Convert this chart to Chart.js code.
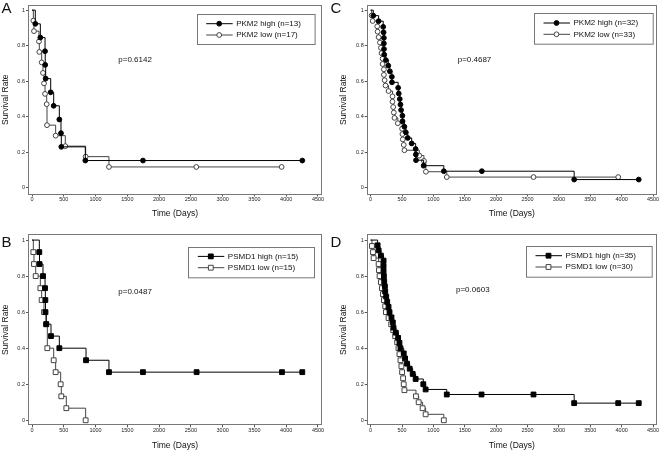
<!DOCTYPE html>
<html>
<head>
<meta charset="utf-8">
<script src="https://cdn.jsdelivr.net/npm/chart.js@4.4.1/dist/chart.umd.min.js"></script>
<style>
  body { margin: 0; background: #fff; }
  canvas { position: absolute; }
</style>
</head>
<body>
<canvas id="chartA" width="330" height="226" style="left:0;top:0"></canvas>
<canvas id="chartC" width="332" height="226" style="left:330px;top:0"></canvas>
<canvas id="chartB" width="330" height="226" style="left:0;top:226px"></canvas>
<canvas id="chartD" width="332" height="226" style="left:330px;top:226px"></canvas>
<script>
// axis ticks
const xTicks = [0, 500, 1000, 1500, 2000, 2500, 3000, 3500, 4000, 4500];
const yTicks = [0, 0.2, 0.4, 0.6, 0.8, 1];
const yTickLabels = ['0', '0.2', '0.4', '0.6', '0.8', '1'];

// A: PKM2 (first cohort)
const aHighDays = [0, 52, 131, 205, 208, 215, 294, 341, 430, 456, 461, 839, 1746, 4253];
const aHighSurv = [1, 0.923, 0.846, 0.769, 0.692, 0.615, 0.538, 0.462, 0.385, 0.308, 0.231, 0.154, 0.154, 0.154];
const aLowDays = [0, 21, 31, 110, 115, 152, 173, 189, 205, 231, 236, 372, 524, 844, 1211, 2585, 3928];
const aLowSurv = [1, 0.941, 0.882, 0.824, 0.765, 0.706, 0.647, 0.588, 0.529, 0.471, 0.353, 0.294, 0.235, 0.176, 0.118, 0.118, 0.118];

// B: PSMD1 (first cohort)
const bHighDays = [0, 115, 118, 173, 205, 210, 212, 225, 299, 430, 850, 1211, 1746, 2590, 3933, 4253];
const bHighSurv = [1, 0.933, 0.867, 0.8, 0.733, 0.667, 0.6, 0.533, 0.467, 0.4, 0.333, 0.267, 0.267, 0.267, 0.267, 0.267];
const bLowDays = [0, 21, 31, 58, 131, 152, 189, 220, 241, 341, 372, 451, 461, 540, 844];
const bLowSurv = [1, 0.933, 0.867, 0.8, 0.733, 0.667, 0.6, 0.533, 0.4, 0.333, 0.267, 0.2, 0.133, 0.067, 0];

// C: PKM2 (second cohort)
const cHighDays = [0, 42, 127, 200, 206, 211, 211, 213, 216, 243, 280, 306, 338, 340, 438, 448, 464, 475, 485, 506, 508, 538, 560, 591, 654, 717, 720, 723, 844, 1166, 1772, 3243, 4272];
const cHighSurv = [1, 0.969, 0.938, 0.906, 0.875, 0.844, 0.813, 0.781, 0.75, 0.719, 0.688, 0.656, 0.625, 0.594, 0.563, 0.531, 0.5, 0.469, 0.438, 0.406, 0.375, 0.344, 0.313, 0.281, 0.25, 0.219, 0.188, 0.156, 0.125, 0.094, 0.094, 0.047, 0.047];
const cLowDays = [0, 16, 32, 105, 111, 127, 148, 164, 174, 190, 190, 211, 211, 222, 237, 285, 348, 348, 359, 369, 380, 433, 501, 506, 512, 527, 538, 775, 849, 880, 1213, 2595, 3945];
const cLowSurv = [1, 0.970, 0.939, 0.909, 0.879, 0.848, 0.818, 0.788, 0.758, 0.727, 0.697, 0.667, 0.636, 0.606, 0.576, 0.545, 0.515, 0.485, 0.455, 0.424, 0.394, 0.364, 0.333, 0.303, 0.273, 0.242, 0.212, 0.182, 0.152, 0.091, 0.061, 0.061, 0.061];

// D: PSMD1 (second cohort)
const dHighDays = [0, 111, 127, 163, 206, 206, 206, 211, 216, 227, 232, 248, 264, 285, 301, 332, 353, 364, 401, 438, 459, 475, 527, 549, 580, 622, 670, 717, 839, 876, 1213, 1767, 2595, 3243, 3945, 4272];
const dHighSurv = [1, 0.971, 0.943, 0.914, 0.886, 0.857, 0.829, 0.8, 0.771, 0.743, 0.714, 0.686, 0.657, 0.629, 0.6, 0.571, 0.543, 0.514, 0.486, 0.457, 0.429, 0.4, 0.371, 0.343, 0.314, 0.286, 0.257, 0.229, 0.2, 0.171, 0.143, 0.143, 0.143, 0.095, 0.095, 0.095];
const dLowDays = [0, 21, 37, 47, 127, 132, 142, 163, 179, 195, 211, 232, 243, 285, 327, 359, 390, 422, 443, 459, 475, 490, 501, 517, 527, 538, 722, 765, 828, 876, 1166];
const dLowSurv = [1, 0.967, 0.933, 0.9, 0.867, 0.833, 0.8, 0.767, 0.733, 0.7, 0.667, 0.633, 0.6, 0.567, 0.533, 0.5, 0.467, 0.433, 0.4, 0.367, 0.333, 0.3, 0.267, 0.233, 0.2, 0.167, 0.133, 0.1, 0.067, 0.033, 0];

const seriesLabels = {
  A: ['PKM2 high (n=13)', 'PKM2 low (n=17)'],
  B: ['PSMD1 high (n=15)', 'PSMD1 low (n=15)'],
  C: ['PKM2 high (n=32)', 'PKM2 low (n=33)'],
  D: ['PSMD1 high (n=35)', 'PSMD1 low (n=30)']
};
const pValues = { A: 'p=0.6142', B: 'p=0.0487', C: 'p=0.4687', D: 'p=0.0603' };

const FONT = '"Liberation Sans", Arial, Helvetica, sans-serif';
Chart.defaults.font.family = FONT;

const HIGH_COLOR = '#000';
const LOW_COLOR = '#444';

function pts(days, surv) {
  return days.map((d, i) => ({ x: d, y: surv[i] }));
}

function series(label, days, surv, shape, high) {
  const r = shape === 'rect' ? 3.4 : 2.4;
  return {
    label: label,
    data: pts(days, surv),
    showLine: true,
    stepped: true,
    borderColor: high ? HIGH_COLOR : LOW_COLOR,
    borderWidth: 1,
    pointStyle: shape,
    pointRadius: c => c.dataIndex === 0 ? 0 : r,
    pointBackgroundColor: high ? HIGH_COLOR : '#fff',
    pointBorderColor: high ? HIGH_COLOR : LOW_COLOR,
    pointBorderWidth: 1,
    r: r
  };
}

function marker(ctx, shape, r, x, y) {
  ctx.beginPath();
  if (shape === 'rect') {
    const h = r * Math.SQRT1_2;
    ctx.rect(x - h, y - h, 2 * h, 2 * h);
  } else {
    ctx.arc(x, y, r, 0, Math.PI * 2);
  }
  ctx.fill();
  ctx.stroke();
}

function extras(p) {
  return {
    id: 'kmExtras' + p.key,
    afterDraw(chart) {
      const ctx = chart.ctx;
      const a = chart.chartArea;
      ctx.save();
      // plot frame
      ctx.strokeStyle = '#777';
      ctx.lineWidth = 1;
      ctx.strokeRect(Math.round(a.left) + 0.5, Math.round(a.top) + 0.5,
        Math.round(a.right - a.left) - 1, Math.round(a.bottom - a.top) - 1);

      // legend box
      const lg = p.legend;
      ctx.strokeRect(Math.round(lg.x) + 0.5, Math.round(lg.y) + 0.5, lg.w, lg.h);
      chart.data.datasets.forEach((ds, i) => {
        const y = lg.y + 9.7 + i * 11.3;
        ctx.strokeStyle = ds.borderColor;
        ctx.lineWidth = 1;
        ctx.beginPath();
        ctx.moveTo(lg.x + 9.5, y);
        ctx.lineTo(lg.x + 36, y);
        ctx.stroke();
        ctx.fillStyle = ds.pointBackgroundColor;
        ctx.strokeStyle = ds.pointBorderColor;
        marker(ctx, ds.pointStyle, ds.r, lg.x + 22.5, y);
        ctx.fillStyle = '#111';
        ctx.font = '8px ' + FONT;
        ctx.textBaseline = 'middle';
        ctx.textAlign = 'left';
        ctx.fillText(ds.label, lg.x + 39.5, y);
      });

      // p-value
      ctx.fillStyle = '#111';
      ctx.font = '8px ' + FONT;
      ctx.textBaseline = 'middle';
      ctx.fillText(pValues[p.key], p.pX, p.pY);

      // panel letter
      ctx.font = '15px ' + FONT;
      ctx.textBaseline = 'alphabetic';
      ctx.fillText(p.key, p.letterX, p.letterY);
      ctx.restore();
    }
  };
}

function kmChart(p, highDays, highSurv, lowDays, lowSurv) {
  const W = p.w, H = 226;
  const labels = seriesLabels[p.key];
  new Chart(document.getElementById('chart' + p.key), {
    type: 'scatter',
    data: {
      datasets: [
        series(labels[0], highDays, highSurv, p.shape, true),
        series(labels[1], lowDays, lowSurv, p.shape, false)
      ]
    },
    options: {
      responsive: false,
      animation: false,
      events: [],
      layout: { padding: { left: 0, top: p.area.top, right: W - p.area.right, bottom: 0 } },
      plugins: { legend: { display: false }, tooltip: { enabled: false } },
      scales: {
        x: {
          type: 'linear', min: -63, max: 4563,
          afterBuildTicks: s => { s.ticks = xTicks.map(v => ({ value: v })); },
          afterFit: s => { s.height = H - p.area.bottom; s.paddingLeft = 0; s.paddingRight = 0; },
          grid: { drawOnChartArea: false, tickLength: 2, color: '#555' },
          border: { display: false },
          ticks: { padding: 0, maxRotation: 0, autoSkip: false, color: '#222',
                   font: { size: 5.5 }, callback: v => String(v) },
          title: { display: true, text: 'Time (Days)', color: '#111', font: { size: 8.5 },
                   padding: { top: 0, bottom: p.xTitlePad } }
        },
        y: {
          type: 'linear', min: p.yMin, max: p.yMax,
          afterBuildTicks: s => { s.ticks = yTicks.map(v => ({ value: v })); },
          afterFit: s => { s.width = p.area.left; s.paddingTop = 0; s.paddingBottom = 0; },
          grid: { drawOnChartArea: false, tickLength: 2, color: '#555' },
          border: { display: false },
          ticks: { padding: 1, color: '#222', font: { size: 5.5 },
                   callback: (v, i) => yTickLabels[i] },
          title: { display: true, text: 'Survival Rate', color: '#111', font: { size: 8.5 },
                   padding: { top: p.yTitlePad, bottom: 0 } }
        }
      }
    },
    plugins: [extras(p)]
  });
}

kmChart({ key: 'A', w: 330, shape: 'circle',
  area: { left: 28, right: 322, top: 0.5, bottom: 194.5 }, yMin: -0.037, yMax: 1.029,
  xTitlePad: 7.6, yTitlePad: 0.4, pX: 118.3, pY: 59.3, letterX: 1.5, letterY: 12.7,
  legend: { x: 196.7, y: 14, w: 117.6, h: 30 } }, aHighDays, aHighSurv, aLowDays, aLowSurv);

kmChart({ key: 'C', w: 332, shape: 'circle',
  area: { left: 36.7, right: 328.3, top: 0.5, bottom: 194.5 }, yMin: -0.037, yMax: 1.029,
  xTitlePad: 7.6, yTitlePad: 8.2, pX: 127.7, pY: 59.3, letterX: 0.5, letterY: 12.7,
  legend: { x: 204, y: 13.3, w: 118.7, h: 30.7 } }, cHighDays, cHighSurv, cLowDays, cLowSurv);

kmChart({ key: 'B', w: 330, shape: 'rect',
  area: { left: 28, right: 322, top: 8.3, bottom: 199.3 }, yMin: -0.028, yMax: 1.032,
  xTitlePad: 0.9, yTitlePad: 0.4, pX: 118.3, pY: 65.3, letterX: 1.5, letterY: 20.7,
  legend: { x: 188.3, y: 20.7, w: 126, h: 30.3 } }, bHighDays, bHighSurv, bLowDays, bLowSurv);

kmChart({ key: 'D', w: 332, shape: 'rect',
  area: { left: 36.7, right: 328.3, top: 8.3, bottom: 199.3 }, yMin: -0.028, yMax: 1.032,
  xTitlePad: 0.9, yTitlePad: 8.2, pX: 126, pY: 63.3, letterX: 0.5, letterY: 20.7,
  legend: { x: 196, y: 20, w: 125.7, h: 30.7 } }, dHighDays, dHighSurv, dLowDays, dLowSurv);
</script>
</body>
</html>
